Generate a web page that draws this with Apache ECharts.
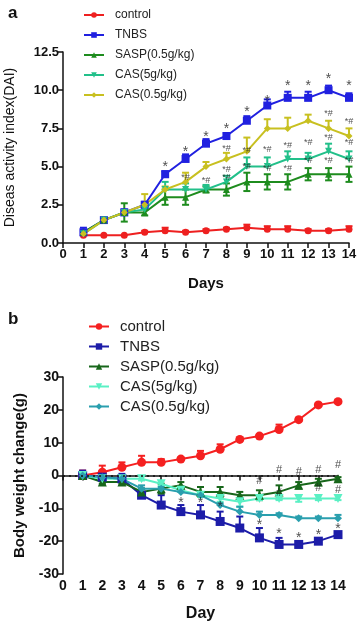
<!DOCTYPE html>
<html>
<head>
<meta charset="utf-8">
<script src="https://cdn.jsdelivr.net/npm/echarts@6/dist/echarts.min.js"></script>
<style>
  html, body { margin: 0; padding: 0; background: #fff; }
  #chart { width: 358px; height: 623px; }
</style>
</head>
<body>
<div id="chart"></div>
<script>
// days on the x axis
const days = [1, 2, 3, 4, 5, 6, 7, 8, 9, 10, 11, 12, 13, 14];
const xTicks = [0, 1, 2, 3, 4, 5, 6, 7, 8, 9, 10, 11, 12, 13, 14];

// panel a: disease activity index
const aControl = [0.5, 0.5, 0.5, 0.7, 0.8, 0.7, 0.8, 0.9, 1.0, 0.9, 0.9, 0.8, 0.8, 0.9];
const aTNBS    = [0.7, 1.5, 2.0, 2.5, 4.5, 5.5, 6.5, 7.0, 8.0, 9.0, 9.5, 9.5, 10.0, 9.5];
const aSASP    = [0.7, 1.5, 2.0, 2.0, 3.0, 3.0, 3.5, 3.5, 4.0, 4.0, 4.0, 4.5, 4.5, 4.5];
const aCAS5    = [0.6, 1.5, 2.0, 2.2, 3.5, 3.5, 3.5, 4.0, 5.0, 5.0, 5.5, 5.5, 6.0, 5.5];
const aCAS05   = [0.6, 1.5, 2.0, 2.5, 3.5, 4.0, 5.0, 5.5, 6.0, 7.5, 7.5, 8.0, 7.5, 7.0];
// error bars (SEM)
const aControlErr = [0.3, 0, 0, 0.1, 0.2, 0.1, 0.1, 0.1, 0.2, 0.2, 0.2, 0.1, 0.1, 0.2];
const aTNBSErr    = [0.3, 0.1, 0.2, 0.2, 0.2, 0.3, 0.3, 0.2, 0.3, 0.4, 0.4, 0.4, 0.3, 0.3];
const aSASPErr    = [0, 0, 0.6, 0.2, 0.5, 0.5, 0.2, 0.4, 0.6, 0.5, 0.5, 0.4, 0.4, 0.5];
const aCAS5Err    = [0, 0, 0, 0.3, 0.5, 0.4, 0.3, 0.4, 0.6, 0.6, 0.5, 0.4, 0.5, 0.5];
const aCAS05Err   = [0, 0, 0, 0.7, 0.2, 0.6, 0.3, 0.4, 0.9, 0.6, 0.7, 0.4, 0.5, 0.5];
const aYTicks = [0, 2.5, 5, 7.5, 10, 12.5];
// significance marks [day, value, text]
const aStars = [[5, 5.25, '*'], [6, 6.2, '*'], [7, 7.2, '*'], [8, 7.7, '*'], [9, 8.8, '*'],
  [10, 9.55, '*'], [11, 10.5, '*'], [12, 10.5, '*'], [13, 11.0, '*'], [14, 10.5, '*']];
const aMarks = [[6, 4.3, '*#'], [7, 4.1, '*#'], [8, 6.2, '*#'], [8, 4.8, '*#'], [8, 4.3, '*#'],
  [9, 6.05, '*#'], [9, 5.0, '*#'], [10, 6.1, '*#'], [10, 4.9, '*#'], [11, 6.4, '*#'], [11, 4.9, '*#'],
  [12, 6.55, '*#'], [12, 5.4, '*#'], [13, 8.45, '*#'], [13, 6.9, '*#'], [13, 5.4, '*#'],
  [14, 7.95, '*#'], [14, 6.55, '*#'], [14, 5.4, '*#']];

// panel b: body weight change
const bControl = [0, 1, 2.5, 4, 4, 5, 6, 8, 11, 12, 14, 17, 21.5, 22.5];
const bTNBS    = [0, -0.5, -1, -6, -9, -11, -12, -14, -16, -19, -21, -21, -20, -18];
const bSASP    = [0, -2, -2, -5, -4, -3, -5, -5, -6, -6, -5, -3, -2, -1];
const bCAS5    = [0, -1, -1, -1, -2.5, -4.5, -6, -7, -8, -7, -7, -7, -7, -7];
const bCAS05   = [0, -0.5, -1, -4, -4, -5, -6, -9, -11, -12, -12, -13, -13, -13];
const bControlErr = [1.5, 2, 1.5, 2, 1, 0.5, 1.5, 1.5, 0.5, 0.5, 1.5, 0.5, 0.5, 0.5];
const bTNBSErr    = [1.5, 0.5, 1.5, 2, 3, 2, 3, 3, 3.5, 3, 2, 0.5, 0.5, 0.5];
const bSASPErr    = [0, 0.5, 0.5, 1, 1.5, 1, 1.5, 1.5, 1, 1.5, 2, 1, 1, 0.5];
const bCAS5Err    = [0, 0, 0, 0.5, 0.5, 0.5, 0.5, 1, 1.5, 0.5, 0.5, 1, 0.5, 0.5];
const bCAS05Err   = [0, 0, 0, 1, 0.5, 0.5, 0.5, 0.5, 1.5, 1, 0.5, 0.5, 0.5, 1];
const bYTicks = [-30, -20, -10, 0, 10, 20, 30];
const bStars = [[6, -7.2, '*'], [7, -7.2, '*'], [8, -8.5, '*'], [10, -13.9, '*'],
  [11, -16.5, '*'], [12, -18, '*'], [13, -16.9, '*'], [14, -15, '*']];
const bHash = [[10, -1.8, '#'], [11, 1.7, '#'], [11, -5.3, '#'], [12, 1.0, '#'],
  [13, 1.7, '#'], [13, -3.8, '#'], [14, 3.2, '#'], [14, -4.3, '#']];

const FONT = '"Liberation Sans", Arial, sans-serif';
const triDown = 'path://M0,0 L10,0 L5,9 Z';

function lineSeries(name, vals, color, symbol, size, idx) {
  return {
    name: name, type: 'line', xAxisIndex: idx, yAxisIndex: idx,
    data: days.map((d, i) => [d, vals[i]]),
    symbol: symbol, symbolSize: size,
    itemStyle: { color: color },
    lineStyle: { color: color, width: 2 },
    z: 3, animation: false
  };
}

// custom error bars: dir = 'up' | 'down' | 'both'
function errSeries(vals, err, dir, color, idx) {
  return {
    type: 'custom', xAxisIndex: idx, yAxisIndex: idx,
    data: days.map((d, i) => [d, vals[i], err[i]]),
    z: 2, animation: false, silent: true,
    renderItem(params, api) {
      const x = api.value(0), y = api.value(1), e = api.value(2);
      if (!e) return null;
      const top = api.coord([x, dir === 'down' ? y : y + e]);
      const bot = api.coord([x, dir === 'up' ? y : y - e]);
      const st = { stroke: color, lineWidth: 2 };
      const kids = [{ type: 'line', shape: { x1: top[0], y1: top[1], x2: bot[0], y2: bot[1] }, style: st }];
      if (dir !== 'down') kids.push({ type: 'line', shape: { x1: top[0] - 3.5, y1: top[1], x2: top[0] + 3.5, y2: top[1] }, style: st });
      if (dir !== 'up') kids.push({ type: 'line', shape: { x1: bot[0] - 3.5, y1: bot[1], x2: bot[0] + 3.5, y2: bot[1] }, style: st });
      return { type: 'group', children: kids };
    }
  };
}

function textSeries(marks, size, idx, dy) {
  return {
    type: 'scatter', xAxisIndex: idx, yAxisIndex: idx, symbolSize: 0, z: 5,
    animation: false, silent: true,
    data: marks.map(m => ({ value: [m[0], m[1]], name: m[2] })),
    label: {
      show: true, position: 'inside', formatter: '{b}', offset: [0, dy],
      color: '#222', fontSize: size, fontFamily: FONT
    }
  };
}

function xAxis(idx, name, fs, gap) {
  return {
    type: 'value', gridIndex: idx, min: xTicks[0], max: xTicks[xTicks.length - 1], interval: 1,
    name: name, nameLocation: 'middle', nameGap: gap,
    nameTextStyle: { color: '#111', fontWeight: 'bold', fontSize: fs + 2, fontFamily: FONT },
    axisLine: { lineStyle: { color: '#111', width: 1.5 } },
    axisTick: { length: 5, lineStyle: { color: '#111', width: 1.5 } },
    axisLabel: { color: '#111', fontWeight: 'bold', fontSize: fs, fontFamily: FONT, margin: 5 },
    splitLine: { show: false }
  };
}

function yAxis(idx, ticks, name, fs, nameFs, nameWeight, gap, fmt) {
  return {
    type: 'value', gridIndex: idx, min: ticks[0], max: ticks[ticks.length - 1],
    interval: ticks[1] - ticks[0],
    name: name, nameLocation: 'middle', nameGap: gap,
    nameTextStyle: { color: '#111', fontWeight: nameWeight, fontSize: nameFs, fontFamily: FONT },
    axisLine: { show: true, lineStyle: { color: '#111', width: 1.5 } },
    axisTick: { show: true, length: 5, lineStyle: { color: '#111', width: 1.5 } },
    axisLabel: { color: '#111', fontWeight: 'bold', fontSize: fs, fontFamily: FONT, margin: 4, formatter: fmt },
    splitLine: { show: false }
  };
}

const colA = { control: '#ee2020', TNBS: '#2020e0', SASP: '#1e8c1e', CAS5: '#22c08a', CAS05: '#c8c020' };
const colB = { control: '#f52020', TNBS: '#1c1ca8', SASP: '#17661a', CAS5: '#5af0c4', CAS05: '#2a9fae' };

const series = [
  errSeries(aControl, aControlErr, 'up', colA.control, 0),
  errSeries(aTNBS, aTNBSErr, 'up', colA.TNBS, 0),
  errSeries(aSASP, aSASPErr, 'both', colA.SASP, 0),
  errSeries(aCAS5, aCAS5Err, 'up', colA.CAS5, 0),
  errSeries(aCAS05, aCAS05Err, 'up', colA.CAS05, 0),
  lineSeries('control@a', aControl, colA.control, 'circle', 7, 0),
  lineSeries('TNBS@a', aTNBS, colA.TNBS, 'rect', 8, 0),
  lineSeries('SASP(0.5g/kg)@a', aSASP, colA.SASP, 'triangle', 7, 0),
  lineSeries('CAS(5g/kg)@a', aCAS5, colA.CAS5, triDown, 7, 0),
  lineSeries('CAS(0.5g/kg)@a', aCAS05, colA.CAS05, 'diamond', 7, 0),
  textSeries(aStars, 14, 0, 4),
  textSeries(aMarks, 9, 0, 0),

  errSeries(bControl, bControlErr, 'up', colB.control, 1),
  errSeries(bTNBS, bTNBSErr, 'up', colB.TNBS, 1),
  errSeries(bSASP, bSASPErr, 'both', colB.SASP, 1),
  errSeries(bCAS5, bCAS5Err, 'down', colB.CAS5, 1),
  errSeries(bCAS05, bCAS05Err, 'up', colB.CAS05, 1),
  lineSeries('control@b', bControl, colB.control, 'circle', 9, 1),
  lineSeries('TNBS@b', bTNBS, colB.TNBS, 'rect', 9, 1),
  lineSeries('SASP(0.5g/kg)@b', bSASP, colB.SASP, 'triangle', 9, 1),
  lineSeries('CAS(5g/kg)@b', bCAS5, colB.CAS5, triDown, 9, 1),
  lineSeries('CAS(0.5g/kg)@b', bCAS05, colB.CAS05, 'diamond', 8, 1),
  textSeries(bStars, 14, 1, 4),
  textSeries(bHash, 11, 1, 0)
];
// dotted zero line in panel b
series[17].markLine = {
  silent: true, symbol: 'none', label: { show: false },
  lineStyle: { color: '#111', type: [2, 4], width: 1.5 },
  data: [{ yAxis: 0 }]
};

const chart = echarts.init(document.getElementById('chart'));
const option = {
  backgroundColor: '#fff',
  title: [
    { text: 'a', left: 3, top: 0, textStyle: { fontSize: 17, fontWeight: 'bold', color: '#111', fontFamily: FONT } },
    { text: 'b', left: 3, top: 306, textStyle: { fontSize: 17, fontWeight: 'bold', color: '#111', fontFamily: FONT } }
  ],
  legend: [
    {
      data: ['control@a', 'TNBS@a', 'SASP(0.5g/kg)@a', 'CAS(5g/kg)@a', 'CAS(0.5g/kg)@a'],
      orient: 'vertical', left: 78, top: 4, itemWidth: 20, itemHeight: 7, itemGap: 8,
      formatter: n => n.split('@')[0],
      textStyle: { fontSize: 12, color: '#222', fontFamily: FONT, padding: [0, 0, 0, 6] }
    },
    {
      data: ['control@b', 'TNBS@b', 'SASP(0.5g/kg)@b', 'CAS(5g/kg)@b', 'CAS(0.5g/kg)@b'],
      orient: 'vertical', left: 83, top: 314, itemWidth: 20, itemHeight: 8, itemGap: 5,
      formatter: n => n.split('@')[0],
      textStyle: { fontSize: 15, color: '#222', fontFamily: FONT, padding: [0, 0, 0, 6] }
    }
  ],
  grid: [
    { left: 63, top: 52, width: 286, height: 191, outerBoundsMode: 'none' },
    { left: 63, top: 377, width: 275, height: 197, outerBoundsMode: 'none' }
  ],
  xAxis: [xAxis(0, 'Days', 13, 33), xAxis(1, 'Day', 14, 32)],
  yAxis: [
    yAxis(0, aYTicks, 'Diseas activity index(DAI)', 13, 14, 'normal', 46, v => v.toFixed(1)),
    yAxis(1, bYTicks, 'Body weight change(g)', 14, 15, 'bold', 36, v => String(v))
  ],
  series: series
};
chart.setOption(option);
</script>
</body>
</html>
